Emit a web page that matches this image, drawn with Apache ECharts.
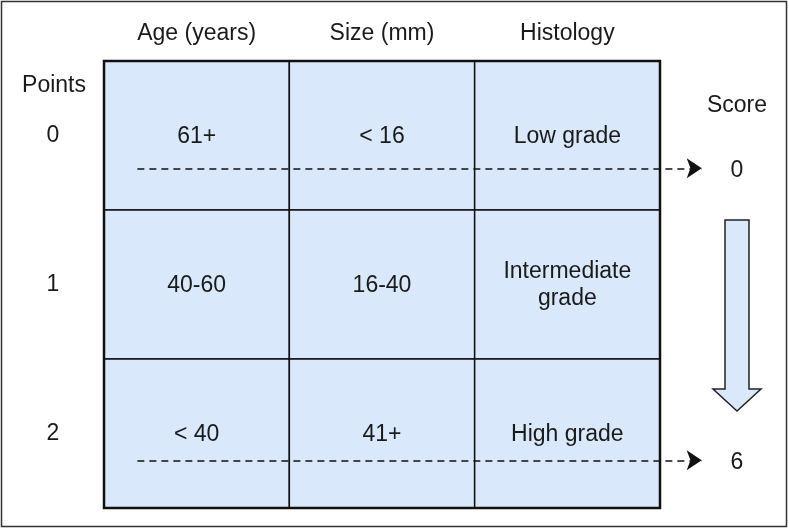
<!DOCTYPE html>
<html>
<head>
<meta charset="utf-8">
<script src="https://cdn.jsdelivr.net/npm/echarts@6/dist/echarts.min.js"></script>
<style>html,body{margin:0;padding:0;background:#fff}#c{width:789px;height:529px}</style>
</head>
<body>
<div id="c"></div>
<script>
// ---- data ----
const columns = ['Age (years)', 'Size (mm)', 'Histology'];
const points = ['0', '1', '2'];
const ageText = ['61+', '40-60', '< 40'];
const sizeText = ['< 16', '16-40', '41+'];
const histologyText = ['Low grade', 'Intermediate\ngrade', 'High grade'];
const scores = [0, 6];
const scoreRows = [0, 2];

// ---- build ----
const cellTexts = [ageText, sizeText, histologyText];
const cells = [];
columns.forEach((c, ci) => points.forEach((p, ri) => cells.push([ci, ri])));

const FONT = '"Liberation Sans", Arial, sans-serif';
const FS = 23;
const TXT = '#1a1a1a';
const FILL = '#dae8fc';
const arrowOffset = [0.72, 0.68];

const chart = echarts.init(document.getElementById('c'), null, {renderer: 'canvas'});
chart.setOption({
  animation: false,
  backgroundColor: '#fff',
  grid: {left: 104, right: 129, top: 61, bottom: 21, show: true, borderColor: '#111', borderWidth: 2.5, backgroundColor: 'transparent', z: 10},
  xAxis: [
    {type: 'category', data: columns, position: 'top', axisLine: {show: false}, axisTick: {show: false}, splitLine: {show: false},
     axisLabel: {fontSize: FS, fontFamily: FONT, color: TXT, margin: 27, verticalAlign: 'middle'}},
    {type: 'value', min: 0, max: 3, show: false}
  ],
  yAxis: [
    {type: 'category', data: points, inverse: true, axisLine: {show: false}, axisTick: {show: false}, splitLine: {show: false},
     axisLabel: {fontSize: FS, fontFamily: FONT, color: TXT, margin: 51, align: 'center'}},
    {type: 'value', min: 0, max: 3, inverse: true, show: false}
  ],
  graphic: [
    {type: 'rect', shape: {x: 1.5, y: 1.5, width: 785, height: 525}, style: {fill: 'none', stroke: '#333', lineWidth: 1.5}, z: 100},
    {type: 'text', x: 54, y: 86, style: {text: 'Points', font: FS + 'px ' + FONT, fill: TXT, align: 'center', verticalAlign: 'middle'}},
    {type: 'text', x: 737, y: 106, style: {text: 'Score', font: FS + 'px ' + FONT, fill: TXT, align: 'center', verticalAlign: 'middle'}},
    {type: 'polygon', shape: {points: [[725, 220], [749, 220], [749, 389], [761, 389], [737, 411], [713, 389], [725, 389]]},
     style: {fill: FILL, stroke: '#222', lineWidth: 1.5}}
  ],
  series: [
    {
      type: 'custom', coordinateSystem: 'cartesian2d', xAxisIndex: 0, yAxisIndex: 0,
      data: cells,
      renderItem: function (params, api) {
        const ci = api.value(0), ri = api.value(1);
        const p = api.coord([ci, ri]);
        const s = api.size([1, 1]);
        return {type: 'group', children: [
          {type: 'rect', shape: {x: p[0] - s[0] / 2, y: p[1] - s[1] / 2, width: s[0], height: s[1]},
           style: {fill: FILL, stroke: '#111', lineWidth: 1.5}},
          {type: 'text', style: {text: cellTexts[ci][ri], x: p[0], y: p[1] + 1, align: 'center', verticalAlign: 'middle',
           font: FS + 'px ' + FONT, fill: TXT, lineHeight: 27}}
        ]};
      }
    },
    {
      type: 'lines', coordinateSystem: 'cartesian2d', xAxisIndex: 1, yAxisIndex: 1, clip: false, z: 5,
      symbol: ['none', 'arrow'], symbolSize: [0, 15],
      lineStyle: {color: '#111', width: 1.6, type: [7, 5], opacity: 1},
      data: scoreRows.map((r, i) => ({coords: [[0.18, r + arrowOffset[i]], [3.225, r + arrowOffset[i]]]}))
    },
    {
      type: 'custom', coordinateSystem: 'cartesian2d', xAxisIndex: 1, yAxisIndex: 1, clip: false,
      data: scoreRows.map((r, i) => [3.415, r + arrowOffset[i], scores[i]]),
      renderItem: function (params, api) {
        const p = api.coord([api.value(0), api.value(1)]);
        return {type: 'text', style: {text: String(scores[params.dataIndex]), x: p[0], y: p[1] + 2, align: 'center', verticalAlign: 'middle',
          font: FS + 'px ' + FONT, fill: TXT}};
      }
    }
  ]
});
</script>
</body>
</html>
